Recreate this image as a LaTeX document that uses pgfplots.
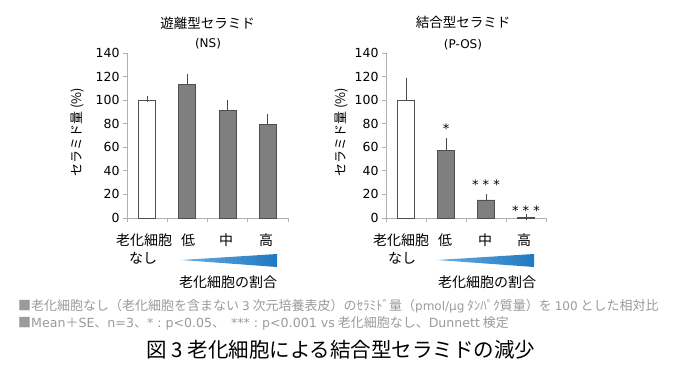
\documentclass[border=0pt]{standalone}
\usepackage{fontspec}
\usepackage{pgfplots}
\pgfplotsset{compat=1.18}
\setmainfont{DejaVu Sans}
\newfontfamily\jp{Noto Sans CJK JP}
\newfontfamily\dv{DejaVu Sans}
\definecolor{axisgray}{HTML}{B0B0B0}
\definecolor{barfill}{HTML}{7F7F7F}
\definecolor{baredge}{HTML}{505050}
\definecolor{errc}{HTML}{4A4A4A}
\definecolor{wedgedark}{HTML}{1F78C1}
\definecolor{wedgelight}{HTML}{6AADE0}
\definecolor{notegray}{HTML}{9A9A9A}

\pgfplotsset{
 panel/.style={
  scale only axis, width=161pt, height=165pt, anchor=south west,
  xmin=-0.5, xmax=3.5, ymin=0, ymax=140,
  xtick={-0.5,0.5,1.5,2.5,3.5}, xticklabels={},
  ytick={0,20,...,140},
  axis x line=bottom, axis y line=left,
  axis line style={draw=axisgray, line width=0.8pt, -},
  major tick style={draw=axisgray, line width=0.8pt},
  tick align=outside, major tick length=4pt,
  y tick label style={font=\fontsize{12.5}{14}\dv, text=black},
  /pgf/number format/assume math mode=true,
  clip=false,
 },
 errstyle/.style={
  error bars/.cd, y dir=plus, y explicit,
  error bar style={draw=errc, line width=1pt},
  error mark=-,
  error mark options={draw=errc, line width=1pt, mark size=3pt},
 },
}
\newcommand{\lat}[1]{{\fontsize{12}{15}\dv #1}}
\newcommand{\latb}[1]{{\fontsize{12.6}{15}\dv #1}}

\begin{document}
\begin{tikzpicture}
\path[use as bounding box] (0,0) rectangle (678pt,-369pt);

% ---------- left panel ----------
\begin{axis}[panel, at={(127pt,-218pt)}]
\addplot[ybar, bar width=17pt, fill=white, draw=baredge, line width=0.8pt, errstyle]
 coordinates {(0,100) +- (0,0.8)};
\addplot[ybar, bar width=17pt, fill=barfill, draw=baredge, line width=0.8pt, errstyle]
 coordinates {(1,113.4) +- (0,6.5) (2,91.4) +- (0,6) (3,79) +- (0,6.6)};
\end{axis}

% ---------- right panel ----------
\begin{axis}[panel, at={(386pt,-218pt)}, width=160pt]
\addplot[ybar, bar width=17pt, fill=white, draw=baredge, line width=0.8pt, errstyle]
 coordinates {(0,100) +- (0,16)};
\addplot[ybar, bar width=17pt, fill=barfill, draw=baredge, line width=0.8pt, errstyle]
 coordinates {(1,57.5) +- (0,8) (2,15.3) +- (0,2.5) (3,0.5) +- (0,0)};
\node[font=\fontsize{13}{14}\dv] at (axis cs:1,76) {*};
\node[font=\fontsize{13}{14}\dv] at (axis cs:2,28) {* * *};
\node[font=\fontsize{13}{14}\dv] at (axis cs:3,6) {* * *};
\end{axis}

% titles
\node[font=\fontsize{13.5}{15}\jp] at (207.5pt,-23pt) {遊離型セラミド};
\node[font=\fontsize{12}{14}\dv] at (208pt,-43.5pt) {(NS)};
\node[font=\fontsize{13.5}{15}\jp] at (463pt,-22.5pt) {結合型セラミド};
\node[font=\fontsize{12}{14}\dv] at (463pt,-44.5pt) {(P-OS)};

% y labels
\node[rotate=90, font=\fontsize{13}{14}\jp] at (77pt,-132pt) {セラミド量 (\%)};
\node[rotate=90, font=\fontsize{13}{14}\jp] at (341pt,-132pt) {セラミド量 (\%)};

% category labels
\begin{scope}[every node/.style={font=\fontsize{14}{15}\jp}]
\node at (144pt,-240pt) {老化細胞};
\node at (143pt,-258pt) {なし};
\node at (188pt,-240pt) {低};
\node at (226pt,-240pt) {中};
\node at (266pt,-240pt) {高};
\node at (401pt,-240pt) {老化細胞};
\node at (402pt,-258pt) {なし};
\node at (445pt,-240pt) {低};
\node at (485pt,-240pt) {中};
\node at (524pt,-240pt) {高};
\node at (228pt,-282pt) {老化細胞の割合};
\node at (487pt,-282pt) {老化細胞の割合};
\end{scope}

% wedges
\shade[left color=wedgelight, right color=wedgedark] (181pt,-260pt) -- (277pt,-254pt) -- (277pt,-267pt) -- cycle;
\shade[left color=wedgelight, right color=wedgedark] (437pt,-260pt) -- (534pt,-254pt) -- (534pt,-267pt) -- cycle;

% footnotes
\node[anchor=west, font=\fontsize{13}{15}\jp, text=notegray, inner sep=0pt] at (18pt,-306pt)
 {■老化細胞なし（老化細胞を含まない \lat{3} 次元培養表皮）のｾﾗﾐﾄﾞ量（\lat{pmol/μg} ﾀﾝﾊﾟｸ質量）を \lat{100} とした相対比};
\node[anchor=west, font=\fontsize{13}{15}\jp, text=notegray, inner sep=0pt] at (18pt,-323pt)
 {■\latb{Mean}＋\latb{SE}、\latb{n=3}、\latb{* :\ p<0.05}、\ \ \latb{*** :\ p<0.001 vs} 老化細胞なし、\latb{Dunnett} 検定};

% caption
\node[font=\fontsize{20.5}{22}\jp] at (341pt,-350pt) {図 3 老化細胞による結合型セラミドの減少};
\end{tikzpicture}
\end{document}
